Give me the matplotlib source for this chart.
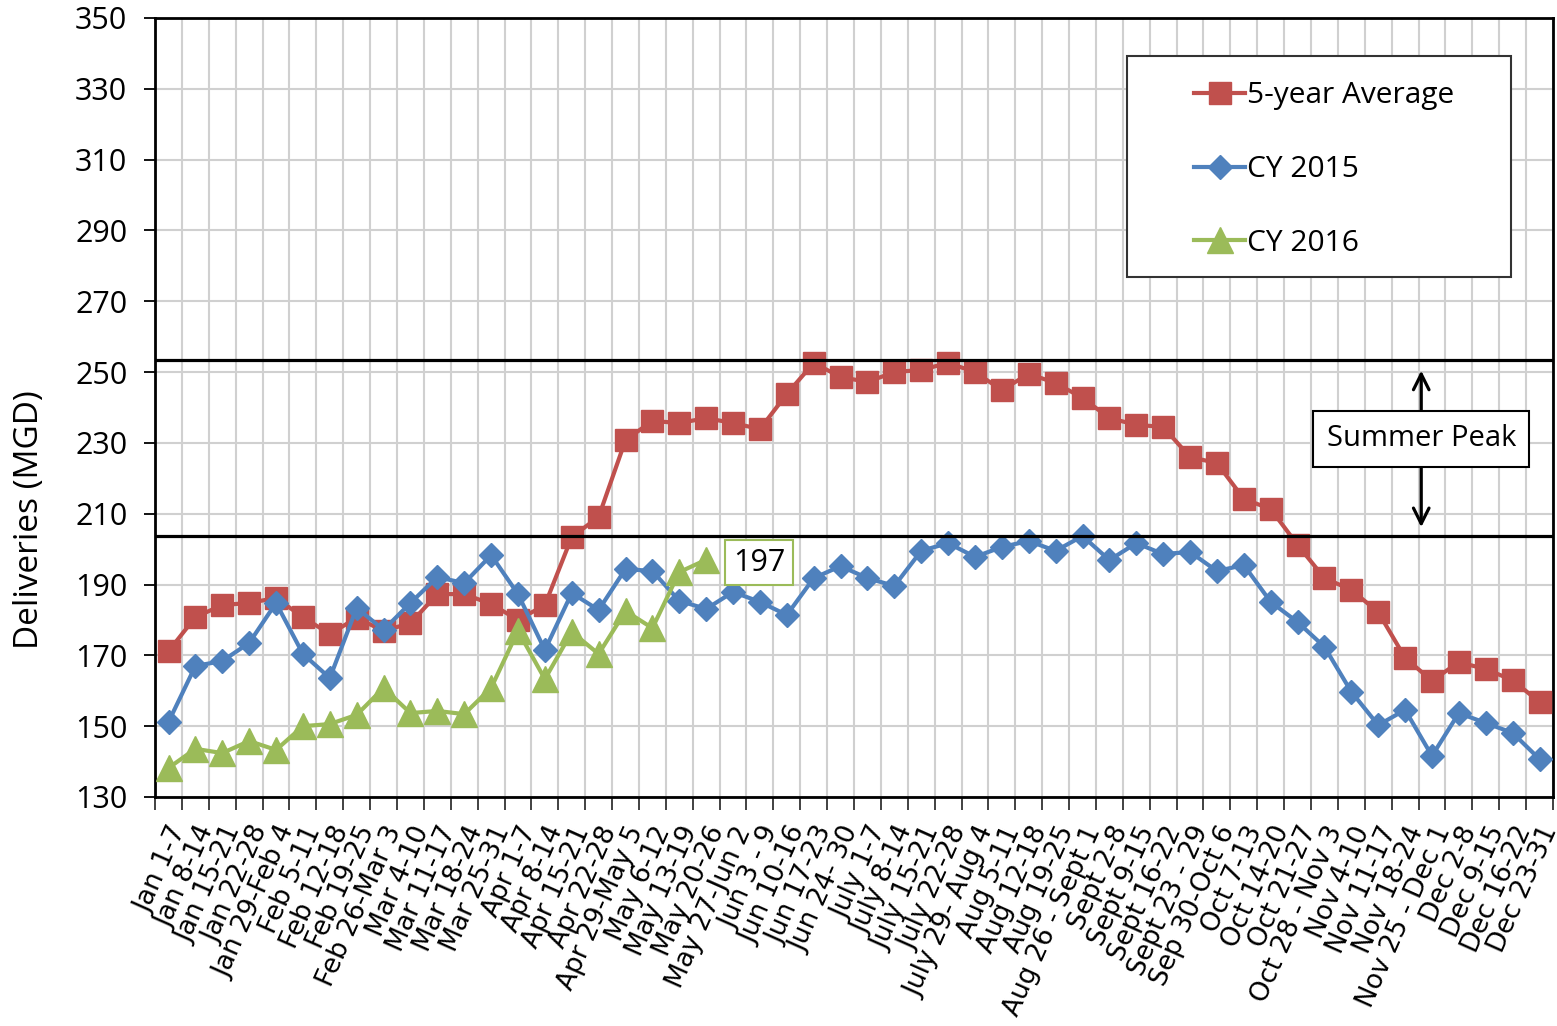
import matplotlib
matplotlib.use('Agg')
import matplotlib.pyplot as plt
from matplotlib.patches import Rectangle
import numpy as np

weeks = ["Jan 1-7", "Jan 8-14", "Jan 15-21", "Jan 22-28", "Jan 29-Feb 4",
         "Feb 5-11", "Feb 12-18", "Feb 19-25", "Feb 26-Mar 3", "Mar 4-10",
         "Mar 11-17", "Mar 18-24", "Mar 25-31", "Apr 1-7", "Apr 8-14",
         "Apr 15-21", "Apr 22-28", "Apr 29-May 5", "May 6-12", "May 13-19",
         "May 20-26", "May 27-Jun 2", "Jun 3 - 9", "Jun 10-16", "Jun 17-23",
         "Jun 24- 30", "July 1-7", "July 8-14", "July 15-21", "July 22-28",
         "July 29- Aug 4", "Aug 5-11", "Aug 12-18", "Aug 19-25", "Aug 26 - Sept 1",
         "Sept 2-8", "Sept 9-15", "Sept 16-22", "Sept 23 - 29", "Sep 30-Oct 6",
         "Oct 7-13", "Oct 14-20", "Oct 21-27", "Oct 28 - Nov 3", "Nov 4-10",
         "Nov 11-17", "Nov 18-24", "Nov 25 - Dec 1", "Dec 2-8", "Dec 9-15",
         "Dec 16-22", "Dec 23-31"]

avg_5yr = [171.2, 180.8, 184.2, 184.8, 186.2, 180.8, 176.0, 180.6, 176.9, 179.1,
           187.3, 187.3, 184.5, 180.0, 184.2, 203.4, 209.1, 230.8, 236.2, 235.6,
           237.0, 235.6, 233.9, 243.8, 252.6, 248.6, 247.2, 250.0, 250.6, 252.6,
           250.0, 244.9, 249.5, 246.9, 242.7, 237.0, 235.1, 234.5, 226.0, 224.3,
           214.2, 211.3, 201.2, 191.8, 188.5, 182.2, 169.3, 162.8, 168.1, 166.1,
           163.0, 156.8]

cy2015 = [151.2, 167.0, 168.4, 173.5, 184.8, 170.4, 163.6, 183.4, 177.2, 184.8,
          192.1, 190.4, 198.3, 187.3, 171.5, 187.6, 182.8, 194.4, 193.8, 185.4,
          183.1, 187.9, 185.1, 181.4, 191.8, 195.2, 191.8, 189.6, 199.5, 201.7,
          197.8, 200.6, 202.3, 199.5, 203.7, 196.9, 201.7, 198.6, 199.2, 193.8,
          195.5, 185.1, 179.4, 172.4, 159.7, 150.3, 154.6, 141.6, 153.7, 150.9,
          148.1, 140.7]

cy2016 = [138.2, 143.6, 142.4, 145.8, 143.3, 150.0, 150.6, 153.2, 160.8, 153.7,
          154.3, 153.4, 160.8, 176.9, 163.3, 176.6, 170.4, 182.5, 177.7, 193.5,
          197.0]

peak_top = 253.4
peak_bottom = 203.6

red = '#C0504D'
blue = '#4F81BD'
green = '#9BBB59'
font = ['Open Sans', 'DejaVu Sans']

fig = plt.figure(figsize=(15.57, 10.26), dpi=100)
ax = fig.add_axes([0.0996, 0.2232, 0.8978, 0.7593])

x = np.arange(len(weeks))
ax.plot(x, avg_5yr, color=red, lw=3, marker='s', ms=15.5, label='5-year Average', zorder=3)
ax.plot(x, cy2015, color=blue, lw=3, marker='D', ms=12, label='CY 2015', zorder=3)
ax.plot(np.arange(len(cy2016)), cy2016, color=green, lw=3, marker='^', ms=19,
        label='CY 2016', zorder=3)

ax.axhline(peak_top, color='black', lw=2.3, zorder=4)
ax.axhline(peak_bottom, color='black', lw=2.3, zorder=4)

ax.set_xlim(-0.5, len(weeks) - 0.5)
ax.set_ylim(130, 350)
ax.set_yticks(np.arange(130, 351, 20))
ax.set_xticks(x)
ax.set_xticks(np.arange(-0.5, len(weeks), 1), minor=True)
ax.set_xticklabels(weeks, rotation=66, ha='right', rotation_mode='anchor',
                   fontsize=19, family='DejaVu Sans')
ax.tick_params(axis='x', which='major', length=0, pad=18)
ax.tick_params(axis='x', which='minor', length=9, width=1.3, color='#333333')
ax.tick_params(axis='y', length=8, width=1.3, labelsize=22, pad=12)
for lab in ax.get_yticklabels():
    lab.set_family(font)

ax.grid(axis='y', which='major', color='#D0D0D0', lw=1.5, zorder=0)
ax.grid(axis='x', which='minor', color='#D0D0D0', lw=1.5, zorder=0)
ax.set_axisbelow(True)
for s in ax.spines.values():
    s.set_linewidth(2)
    s.set_color('black')

ax.set_ylabel('Deliveries (MGD)', fontsize=24, family=font)
ax.yaxis.set_label_coords(-0.078, 0.356)

# label on last green point
ax.annotate('197', (len(cy2016) - 1, cy2016[-1]), xytext=(38, -2),
            textcoords='offset points', fontsize=22, family=font, va='center', ha='center',
            bbox=dict(boxstyle='square,pad=0.25', fc='white', ec=green, lw=1.5), zorder=6)

# summer peak box and arrows
ax.annotate('', xy=(46.6, 251.2), xytext=(46.6, 238.6),
            arrowprops=dict(arrowstyle='->', lw=2.3, color='black', mutation_scale=28), zorder=5)
ax.annotate('', xy=(46.6, 205.4), xytext=(46.6, 223.6),
            arrowprops=dict(arrowstyle='->', lw=2.3, color='black', mutation_scale=28), zorder=5)
ax.text(46.6, 231.1, 'Summer Peak', fontsize=21, family=font, ha='center', va='center',
        bbox=dict(boxstyle='square,pad=0.45', fc='white', ec='black', lw=1.5), zorder=6)

# legend with its own frame
ax.add_patch(Rectangle((0.695, 0.6675), 0.275, 0.2835, transform=ax.transAxes,
                       fc='white', ec='#333333', lw=1.5, zorder=5))
leg = ax.legend(loc='upper left', bbox_to_anchor=(0.735, 0.934), frameon=False,
                prop={'family': font, 'size': 21.5}, handlelength=1.7,
                handletextpad=0.05, labelspacing=1.5, numpoints=1, borderaxespad=0)
leg.set_zorder(6)

fig.savefig('out.png', dpi=100)
